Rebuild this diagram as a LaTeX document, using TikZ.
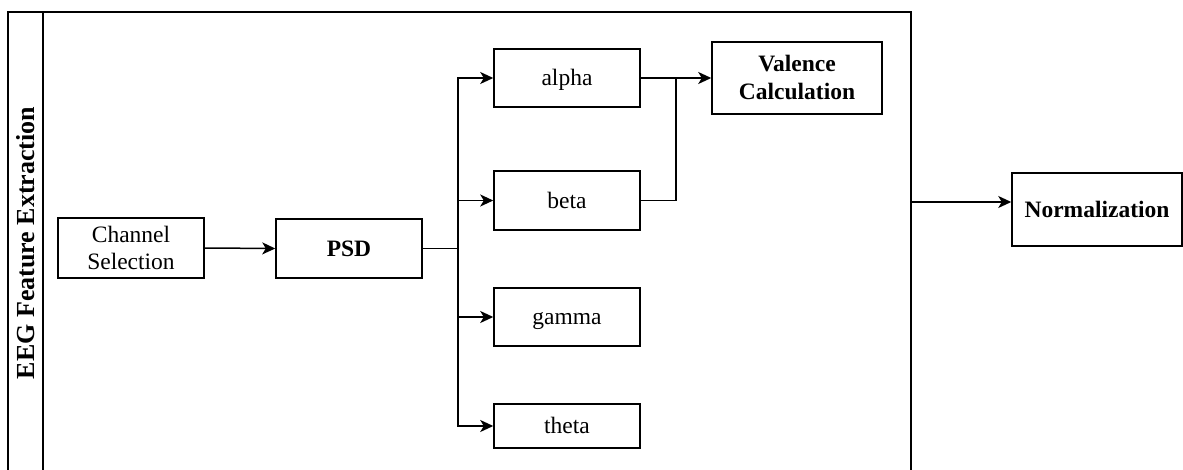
\documentclass[tikz,border=0pt]{standalone}
\usepackage{fontspec}
\setmainfont{Liberation Serif}
\usetikzlibrary{arrows.meta}
\begin{document}
\begin{tikzpicture}[x=1pt,y=-1pt,
  line width=1.5pt,
  box/.style={draw, rectangle, inner sep=0pt, minimum width=146pt, align=center,
    text height=15.5pt, text depth=0pt,
    font=\fontsize{23.5}{27.5}\selectfont},
  bbox/.style={box, font=\fontsize{23.5}{27.5}\selectfont\bfseries},
  twoline/.style={text height=43pt},
  arr/.style={-{Stealth[length=13pt,width=12pt,inset=3.5pt]}}]
\useasboundingbox (0,0) rectangle (1183,470);
% container
\draw (8,472) -- (8,12) -- (911,12) -- (911,472);
\draw (43,12) -- (43,472);
\node[rotate=90, font=\fontsize{26}{30}\selectfont\bfseries] (title) at (25.5,243) {EEG Feature Extraction};
% boxes
\node[box, twoline, minimum height=60pt] (chan) at (131,248) {Channel\\Selection};
\node[bbox, minimum height=59pt] (psd) at (349,248.5) {PSD};
\node[box, minimum height=58pt] (alpha) at (567,78) {alpha};
\node[box, minimum height=59pt] (beta) at (567,200.5) {beta};
\node[box, minimum height=58pt] (gamma) at (567,317) {gamma};
\node[box, minimum height=44pt] (theta) at (567,426) {theta};
\node[bbox, twoline, minimum width=170pt, minimum height=72pt] (val) at (797,78) {Valence\\Calculation};
\node[bbox, minimum width=170pt, minimum height=73pt] (norm) at (1097,209.5) {Normalization};
% coordinates
\coordinate (split) at (458,248.5);
\coordinate (join) at (676,78);
\coordinate (cout) at (911,202);
% connectors
\draw[arr] (chan.east) -- (psd.west);
\draw (psd.east) -- (split);
\draw[arr] (split) |- (alpha.west);
\draw[arr] (split) |- (beta.west);
\draw[arr] (split) |- (gamma.west);
\draw[arr] (split) |- (theta.west);
\draw[arr] (alpha.east) -- (val.west);
\draw (beta.east) -| (join);
\draw[arr] (cout) -- (norm.west |- cout);
\end{tikzpicture}
\end{document}
